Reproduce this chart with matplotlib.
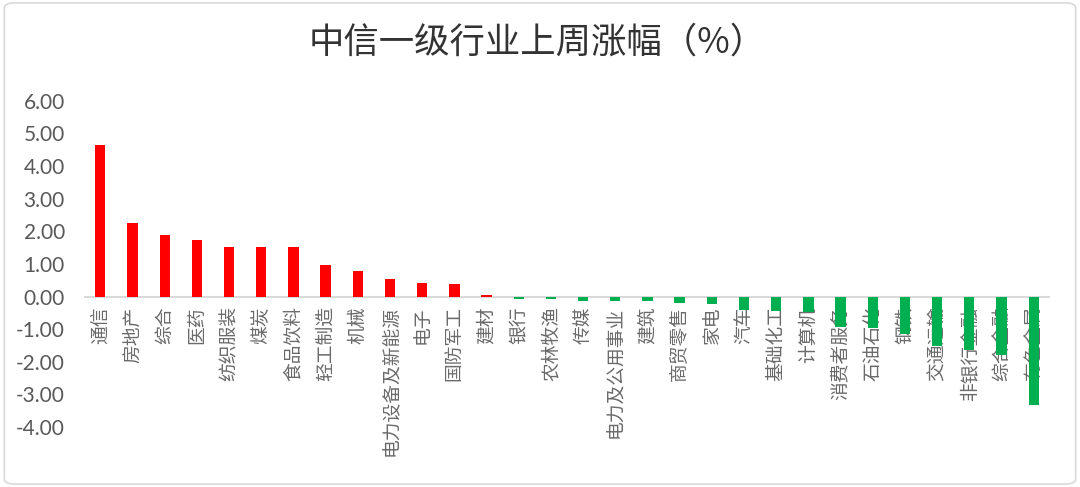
import matplotlib
matplotlib.use("Agg")
import matplotlib.pyplot as plt
from matplotlib.patches import FancyBboxPatch
from matplotlib.ticker import FormatStrFormatter

plt.rcParams['font.family'] = ['Noto Sans CJK SC', 'DejaVu Sans']

industries = ['通信', '房地产', '综合', '医药', '纺织服装', '煤炭', '食品饮料', '轻工制造',
              '机械', '电力设备及新能源', '电子', '国防军工', '建材', '银行', '农林牧渔',
              '传媒', '电力及公用事业', '建筑', '商贸零售', '家电', '汽车', '基础化工',
              '计算机', '消费者服务', '石油石化', '钢铁', '交通运输', '非银行金融',
              '综合金融', '有色金属']
changes = [4.64, 2.26, 1.89, 1.74, 1.53, 1.51, 1.51, 0.97,
           0.79, 0.54, 0.42, 0.40, 0.05, -0.08, -0.08,
           -0.13, -0.13, -0.13, -0.20, -0.23, -0.41, -0.44,
           -0.46, -0.92, -0.95, -1.14, -1.52, -1.65,
           -1.79, -3.33]
y_ticks = [-4, -3, -2, -1, 0, 1, 2, 3, 4, 5, 6]

fig = plt.figure(figsize=(10.8, 4.87), dpi=100)
ax = fig.add_axes([0.078, 0.123, 0.894, 0.670])

colors = ['#FF0000' if v >= 0 else '#00B050' for v in changes]
x = list(range(len(industries)))
ax.bar(x, changes, width=0.32, color=colors, zorder=2)
ax.axhline(0, color='#d9d9d9', linewidth=1.5, zorder=1)

for i, name in enumerate(industries):
    ax.text(i, -0.3, name, rotation=90, ha='center', va='top',
            fontsize=13.5, color='#6a6a6a', zorder=0.5)

ax.set_xlim(-0.5, len(industries) - 0.5)
ax.set_ylim(-4, 6)
ax.set_yticks(y_ticks)
ax.yaxis.set_major_formatter(FormatStrFormatter('%.2f'))
ax.tick_params(axis='y', length=0, labelsize=15, labelcolor='#595959', pad=14)
for lbl in ax.get_yticklabels():
    lbl.set_family(['Lato', 'DejaVu Sans'])
ax.set_xticks([])
for s in ax.spines.values():
    s.set_visible(False)

fig.text(0.497, 0.913, '中信一级行业上周涨幅（%）', ha='center', va='center',
         fontsize=25.5, color='#333333')

border = FancyBboxPatch((0.004, 0.006), 0.992, 0.988, boxstyle='round,pad=0,rounding_size=0.01',
                        transform=fig.transFigure, fill=False, edgecolor='#d9d9d9', linewidth=1.2)
fig.patches.append(border)

fig.savefig('out.png', dpi=100)
